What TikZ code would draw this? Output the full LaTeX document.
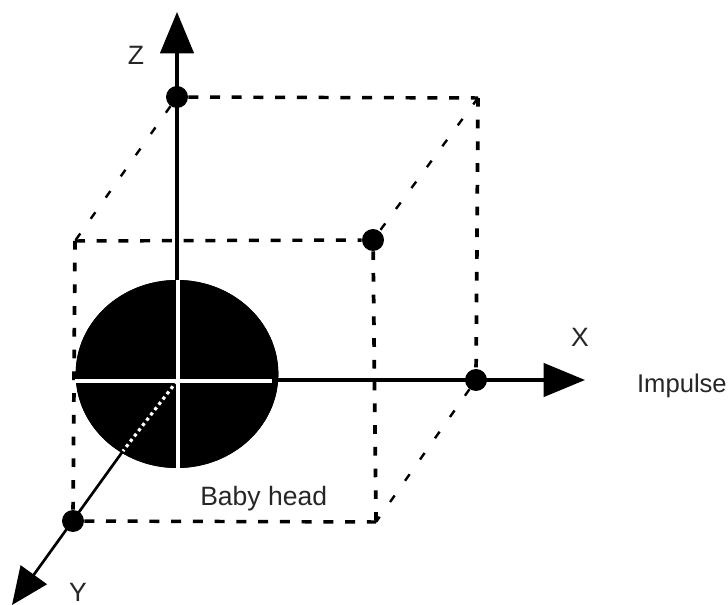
\documentclass[tikz,border=0pt]{standalone}
\usepackage{fontspec}
\setmainfont{Liberation Sans}
\usetikzlibrary{arrows.meta, shapes.geometric}
\tikzset{
  bbox/.style    = {draw=none, fill=white},
  ball/.style    = {ellipse, fill=black, inner sep=0pt, minimum width=152pt, minimum height=141pt},
  dotmark/.style = {circle, fill=black, inner sep=0pt, minimum size=16.5pt},
  axisline/.style= {line width=2.5pt, draw=black},
  axisarrow/.style={axisline, -{Triangle[length=31pt, width=25pt]}},
  yarrow/.style  = {line width=2pt, draw=black, -{Triangle[length=28pt, width=24pt]}},
  crossline/.style={line width=2.5pt, draw=white},
  dotline/.style = {line width=2.4pt, draw=white, dash pattern=on 2.4pt off 2.6pt},
  boxhoriz/.style= {line width=2.6pt, draw=black, dash pattern=on 7.5pt off 8.8pt},
  boxvert/.style = {line width=2.8pt, draw=black, dash pattern=on 6.5pt off 9.8pt},
  boxthin/.style = {line width=1.8pt, draw=black, dash pattern=on 6pt off 13.5pt},
  lbl/.style     = {font=\fontsize{19.9pt}{24pt}\selectfont, text=black!85, inner sep=0pt},
}
\begin{document}
\begin{tikzpicture}[x=0.75pt, y=-0.75pt]
	\useasboundingbox (0,0) rectangle (728,605);
	\fill[bbox] (0,0) rectangle (728,605);
	% box corners without a dot
	\coordinate (ftl) at (75,241);
	\coordinate (btr) at (478,98);
	\coordinate (fbr) at (376,522);
	\coordinate (ztip) at (177,12);
	\coordinate (xtip) at (585,380);
	\coordinate (ytip) at (12,605);
	\coordinate (orig) at (177,381);
	\coordinate (xin) at (278,380);
	\coordinate (yin) at (123,451);
	\coordinate (crossl) at (75,381);
	\coordinate (crossr) at (272,381);
	\coordinate (crosst) at (178,280);
	\coordinate (crossb) at (178,468);
	\node[dotmark] (nz) at (177,97) {};
	\node[dotmark] (nf) at (373,240) {};
	\node[dotmark] (nx) at (476,380) {};
	\node[dotmark] (ny) at (73,521) {};
	\node[ball] (head) at (177,374) {};
	% dashed box
	\foreach \a/\b in {nz/btr,ftl/nf,ny/fbr}{\draw[boxhoriz] (\a) -- (\b);}
	\foreach \a/\b in {btr/nx,nf/fbr,ftl/ny}{\draw[boxvert] (\a) -- (\b);}
	\foreach \a/\b in {nz/ftl,btr/nf,nx/fbr}{\draw[boxthin] (\a) -- (\b);}
	% axes
	\draw[axisarrow] (head.north) -- (ztip);
	\draw[axisarrow] (xin) -- (xtip);
	\draw[yarrow] (yin) -- (ytip);
	\node[ball] (headtop) at (177,374) {};
	\draw[crossline] (crossl) -- (crossr);
	\draw[crossline] (crosst) -- (crossb);
	\draw[dotline] (orig) -- (yin);
	\node[lbl] (zlab) at (136,55) {Z};
	\node[lbl] (xlab) at (580,337) {X};
	\node[lbl] (ylab) at (78,592) {Y};
	\node[lbl, anchor=base east, font=\fontsize{19.2pt}{24pt}\selectfont] (imp) at (727,393) {Impulse};
	\node[lbl, anchor=base west] (bhead) at (200,506) {Baby head};
\end{tikzpicture}
\end{document}
